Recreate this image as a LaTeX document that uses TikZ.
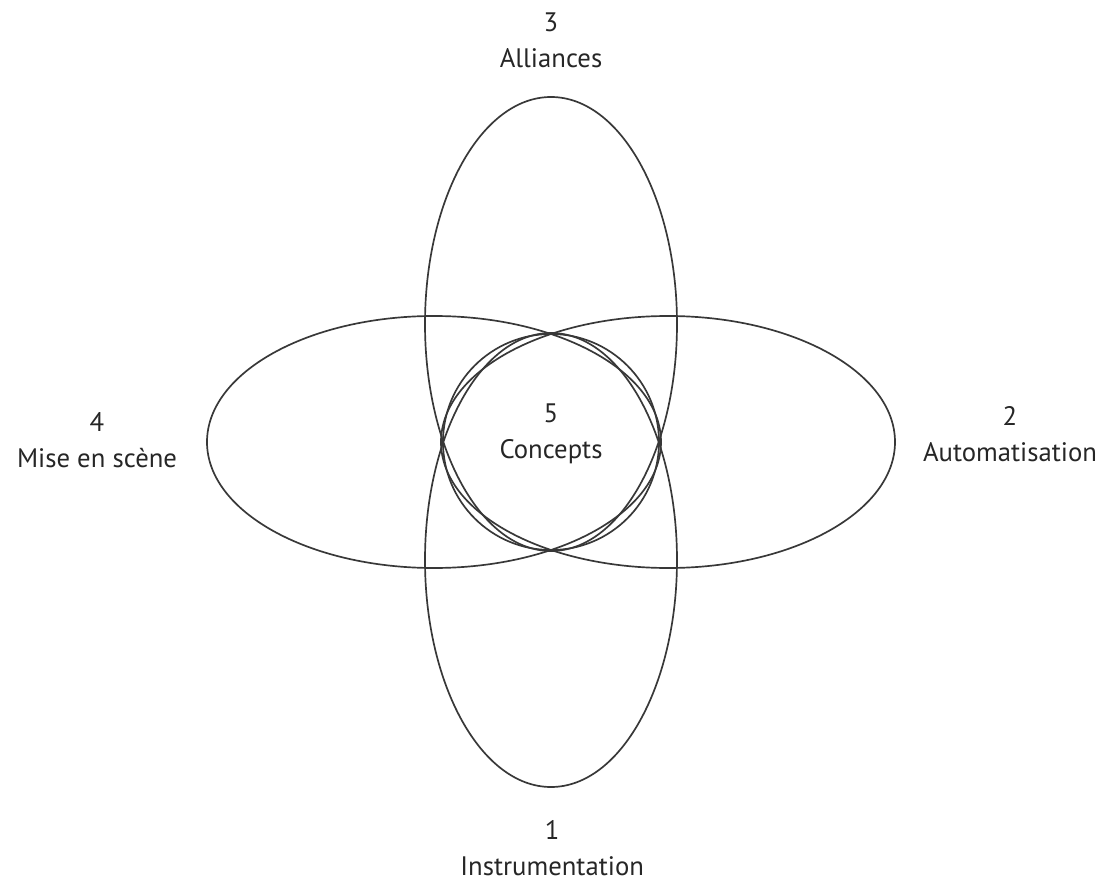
\documentclass[tikz,border=0pt]{standalone}
\usepackage{fontspec}
\setmainfont{PT Sans}
\begin{document}
\begin{tikzpicture}[
    petal/.style={draw=black!78,line width=1.2pt},
    tag/.style={align=center,inner sep=0pt,text=black!85,font=\fontsize{19}{25.6}\selectfont}
  ]
    \pgfmathsetmacro{\hShift}{2.925}
    \pgfmathsetmacro{\hLong}{5.675}
    \pgfmathsetmacro{\hShort}{3.15}
    \pgfmathsetmacro{\vShift}{2.95}
    \pgfmathsetmacro{\vLong}{5.675}
    \pgfmathsetmacro{\vShort}{3.15}
    \pgfmathsetmacro{\coreRadius}{2.7}

    \useasboundingbox (-13.775,-10.975) rectangle (13.95,11.05);

    \coordinate (O) at (0,0);
    \coordinate (W) at (-\hShift,0);
    \coordinate (E) at (\hShift,0);
    \coordinate (N) at (0,\vShift);
    \coordinate (S) at (0,-\vShift);

    \draw [petal] (N) ellipse [x radius=\vShort,y radius=\vLong];
    \draw [petal] (S) ellipse [x radius=\vShort,y radius=\vLong];
    \draw [petal] (W) ellipse [x radius=\hLong,y radius=\hShort];
    \draw [petal] (E) ellipse [x radius=\hLong,y radius=\hShort];
    \draw [petal] (O) circle [radius=\coreRadius];

    \node (concepts) [tag] at (0,0.2) {5\\Concepts};
    \node (alliances) [tag] at (0,10.05) {3\\Alliances};
    \node (instrumentation) [tag] at (0.03,-10.15) {1\\Instrumentation};
    \node (miseenscene) [tag] at (-11.35,0.05) {4\\Mise en scène};
    \node (automatisation) [tag] at (11.475,0.2) {2\\Automatisation};
  \end{tikzpicture}
\end{document}
